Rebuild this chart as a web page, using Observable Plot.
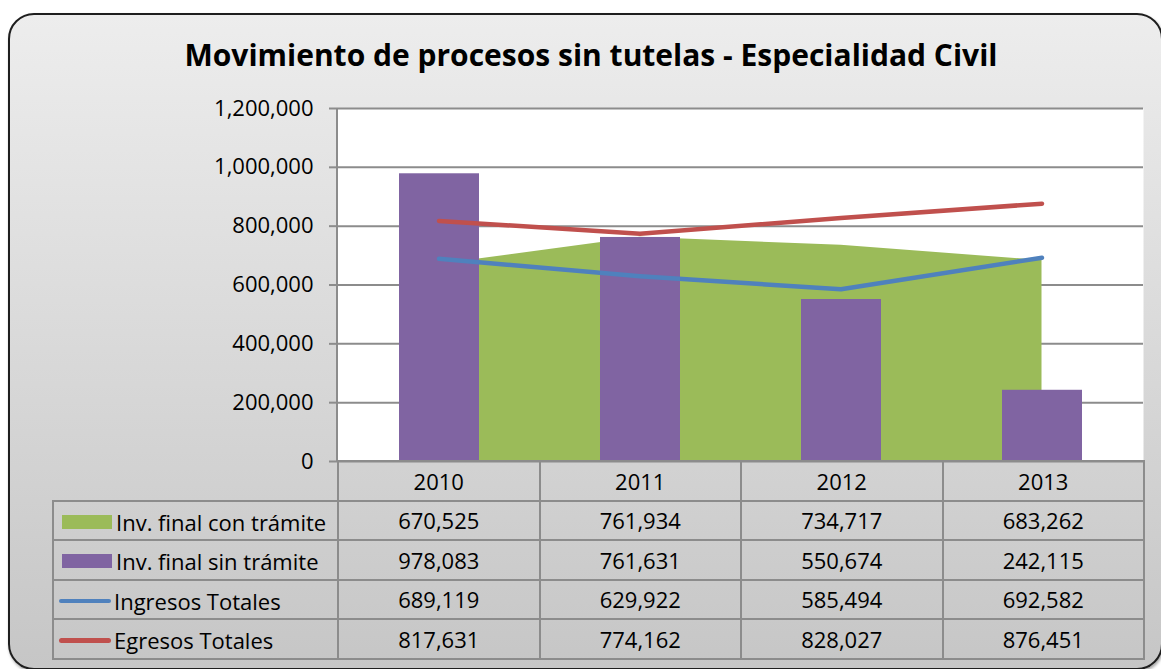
<!DOCTYPE html>
<html>
<head>
<meta charset="utf-8">
<script src="https://cdn.jsdelivr.net/npm/d3@7"></script>
<script src="https://cdn.jsdelivr.net/npm/@observablehq/plot@0.6"></script>
<style>
  html, body { margin: 0; padding: 0; background: #ffffff; }
  #wrap { position: relative; width: 1161px; height: 669px; overflow: hidden; font-family: "Open Sans", sans-serif; }
  #frame { position: absolute; left: 8px; top: 13px; width: 1151px; height: 653px; border: 2px solid #1e1e1e; border-radius: 26px;
           background: linear-gradient(#ededed, #c6c6c6); box-shadow: 1px 2px 3px rgba(0,0,0,0.35); }
  #title { position: absolute; left: 0; width: 1182px; top: 35px; text-align: center; font-weight: 700; font-size: 30px; line-height: 40px; color: #000; }
  #chart { position: absolute; left: 0; top: 0; }
  #axisline { position: absolute; left: 336px; top: 108px; width: 2px; height: 353px; background: #8c8c8c; }
  #tbl { position: absolute; left: 52px; top: 460px; border-collapse: collapse; font-size: 22px; color: #000; table-layout: fixed; }
  #tbl td { border: 2px solid #8c8c8c; height: 37.5px; padding: 0; text-align: center; line-height: 24px; white-space: nowrap; }
  #tbl td.lab { text-align: left; padding-left: 6px; }
  #tbl tr.head td.blank { border: none; }
  .sw { display: inline-block; vertical-align: middle; margin-right: 4px; }
</style>
</head>
<body>
<div id="wrap">
  <div id="frame"></div>
  <div id="title"></div>
  <div id="chart"></div>
  <div id="axisline"></div>
  <table id="tbl"></table>
</div>
<script>
const title = "Movimiento de procesos sin tutelas - Especialidad Civil";
const years = ["2010", "2011", "2012", "2013"];
const seriesNames = ["Inv. final con trámite", "Inv. final sin trámite", "Ingresos Totales", "Egresos Totales"];
const seriesColors = ["#9BBB59", "#8064A2", "#4F81BD", "#C0504D"];
const seriesKinds = ["area", "bar", "line", "line"];
const conTramite = [670525, 761934, 734717, 683262];
const sinTramite = [978083, 761631, 550674, 242115];
const ingresos = [689119, 629922, 585494, 692582];
const egresos = [817631, 774162, 828027, 876451];
const yTicks = [0, 200000, 400000, 600000, 800000, 1000000, 1200000];

document.getElementById("title").textContent = title;

const data = years.map((year, i) => ({year, con: conTramite[i], sin: sinTramite[i], ing: ingresos[i], egr: egresos[i]}));
const fmt = d3.format(",");

const chart = Plot.plot({
  width: 1161,
  height: 470,
  marginLeft: 337,
  marginRight: 18,
  marginTop: 108,
  marginBottom: 9,
  style: {background: "transparent", fontFamily: "'Open Sans', sans-serif", fontSize: "22px", color: "#000", overflow: "visible"},
  x: {type: "band", domain: years, padding: 0, axis: null},
  y: {domain: [0, 1200000], axis: null},
  marks: [
    Plot.frame({fill: "white", stroke: null}),
    Plot.gridY(yTicks, {stroke: "#8c8c8c", strokeOpacity: 1, strokeWidth: 2}),
    Plot.areaY(data, {x: "year", y: "con", fill: seriesColors[0], fillOpacity: 1}),
    Plot.barY(data, {x: "year", y: "sin", fill: seriesColors[1], insetLeft: 61, insetRight: 60}),
    Plot.lineY(data, {x: "year", y: "ing", stroke: seriesColors[2], strokeWidth: 4.5, strokeLinecap: "round"}),
    Plot.lineY(data, {x: "year", y: "egr", stroke: seriesColors[3], strokeWidth: 4.5, strokeLinecap: "round"}),
    Plot.axisY(yTicks, {tickFormat: fmt, tickSize: 8, tickPadding: 16, stroke: "#8c8c8c", strokeWidth: 2, fill: "#000", fontSize: 22})
  ]
});
document.getElementById("chart").appendChild(chart);

// data table
const tbl = d3.select("#tbl");
const colW = [285, 201.5, 201.5, 201.5, 201.5];
const cg = tbl.append("colgroup");
colW.forEach(w => cg.append("col").style("width", w + "px"));
const head = tbl.append("tr").attr("class", "head");
head.append("td").attr("class", "blank");
years.forEach(y => head.append("td").text(y));
const rows = [conTramite, sinTramite, ingresos, egresos];
rows.forEach((vals, r) => {
  const tr = tbl.append("tr");
  const lab = tr.append("td").attr("class", "lab");
  if (seriesKinds[r] === "line") {
    lab.append("span").attr("class", "sw").style("width", "52px").style("height", "4.5px").style("border-radius", "3px").style("background", seriesColors[r]).style("margin-left", "-1px").style("margin-right", "3px");
  } else {
    lab.append("span").attr("class", "sw").style("width", "50px").style("height", "14px").style("background", seriesColors[r]).style("margin-left", "2px");
  }
  lab.append("span").text(seriesNames[r]).style("vertical-align", "middle");
  vals.forEach(v => tr.append("td").text(fmt(v)));
});
</script>
</body>
</html>
